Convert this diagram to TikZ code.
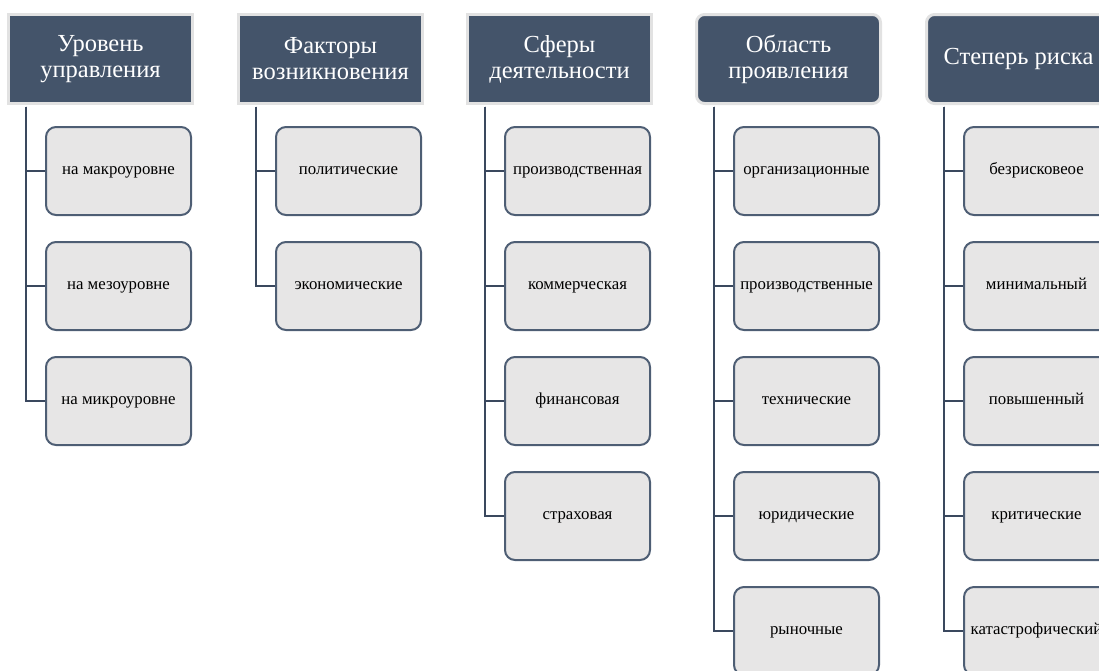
\documentclass[tikz,border=0pt]{standalone}
\usepackage{fontspec}
\setmainfont{Liberation Serif}
\definecolor{slate}{RGB}{68,84,106}
\definecolor{halo}{RGB}{226,226,226}
\definecolor{cardfill}{RGB}{231,230,230}
\definecolor{cardline}{RGB}{78,94,116}
\definecolor{wirecol}{RGB}{58,72,94}
\begin{document}
\begin{tikzpicture}[x=1pt,y=1pt,
  head/.style={fill=slate, draw=halo, line width=3pt, minimum width=184pt,
    minimum height=89pt, inner sep=0pt, text=white,
    font=\fontsize{24.5}{26}\selectfont, align=center},
  headround/.style={head, rounded corners=8pt},
  card/.style={fill=cardfill, draw=cardline, line width=2pt, rounded corners=10pt,
    minimum width=145pt, minimum height=88pt, inner sep=0pt,
    text height=1.8ex, text depth=0.2ex,
    font=\fontsize{16.8}{19}\selectfont},
  wire/.style={draw=wirecol, line width=2pt}]
\useasboundingbox (0,-670) rectangle (1099,0);
\clip (0,-670) rectangle (1099,0);

% column headers
\node[head]      (h1) at (100.5,-59) {Уровень\\управления};
\node[head]      (h2) at (330.5,-59) {Факторы\\возникновения};
\node[head]      (h3) at (559.5,-59) {Сферы\\деятельности};
\node[headround] (h4) at (788.5,-59) {Область\\проявления};
\node[headround] (h5) at (1018.5,-59) {Степерь риска};

% trunk positions of the connectors
\coordinate (t1) at (26,0);
\coordinate (t2) at (256,0);
\coordinate (t3) at (485,0);
\coordinate (t4) at (714,0);
\coordinate (t5) at (944,0);

% column 1
\node[card] (c1a) at (118.5,-171) {на макроуровне};
\node[card] (c1b) at (118.5,-286) {на мезоуровне};
\node[card] (c1c) at (118.5,-401) {на микроуровне};

% column 2
\node[card] (c2a) at (348.5,-171) {политические};
\node[card] (c2b) at (348.5,-286) {экономические};

% column 3
\node[card] (c3a) at (577.5,-171) {производственная};
\node[card] (c3b) at (577.5,-286) {коммерческая};
\node[card] (c3c) at (577.5,-401) {финансовая};
\node[card] (c3d) at (577.5,-516) {страховая};

% column 4
\node[card] (c4a) at (806.5,-171) {организационные};
\node[card] (c4b) at (806.5,-286) {производственные};
\node[card] (c4c) at (806.5,-401) {технические};
\node[card] (c4d) at (806.5,-516) {юридические};
\node[card] (c4e) at (806.5,-631) {рыночные};

% column 5
\node[card] (c5a) at (1036.5,-171) {безрисковеое};
\node[card] (c5b) at (1036.5,-286) {минимальный};
\node[card] (c5c) at (1036.5,-401) {повышенный};
\node[card] (c5d) at (1036.5,-516) {критические};
\node[card] (c5e) at (1036.5,-631) {катастрофический};

% connectors: trunk down from each header, then a branch into each card
\foreach \c in {c1a,c1b,c1c} \draw[wire] ([yshift=-1.5pt]h1.south -| t1) |- (\c.west);
\foreach \c in {c2a,c2b} \draw[wire] ([yshift=-1.5pt]h2.south -| t2) |- (\c.west);
\foreach \c in {c3a,c3b,c3c,c3d} \draw[wire] ([yshift=-1.5pt]h3.south -| t3) |- (\c.west);
\foreach \c in {c4a,c4b,c4c,c4d,c4e} \draw[wire] ([yshift=-1.5pt]h4.south -| t4) |- (\c.west);
\foreach \c in {c5a,c5b,c5c,c5d,c5e} \draw[wire] ([yshift=-1.5pt]h5.south -| t5) |- (\c.west);
\end{tikzpicture}
\end{document}
